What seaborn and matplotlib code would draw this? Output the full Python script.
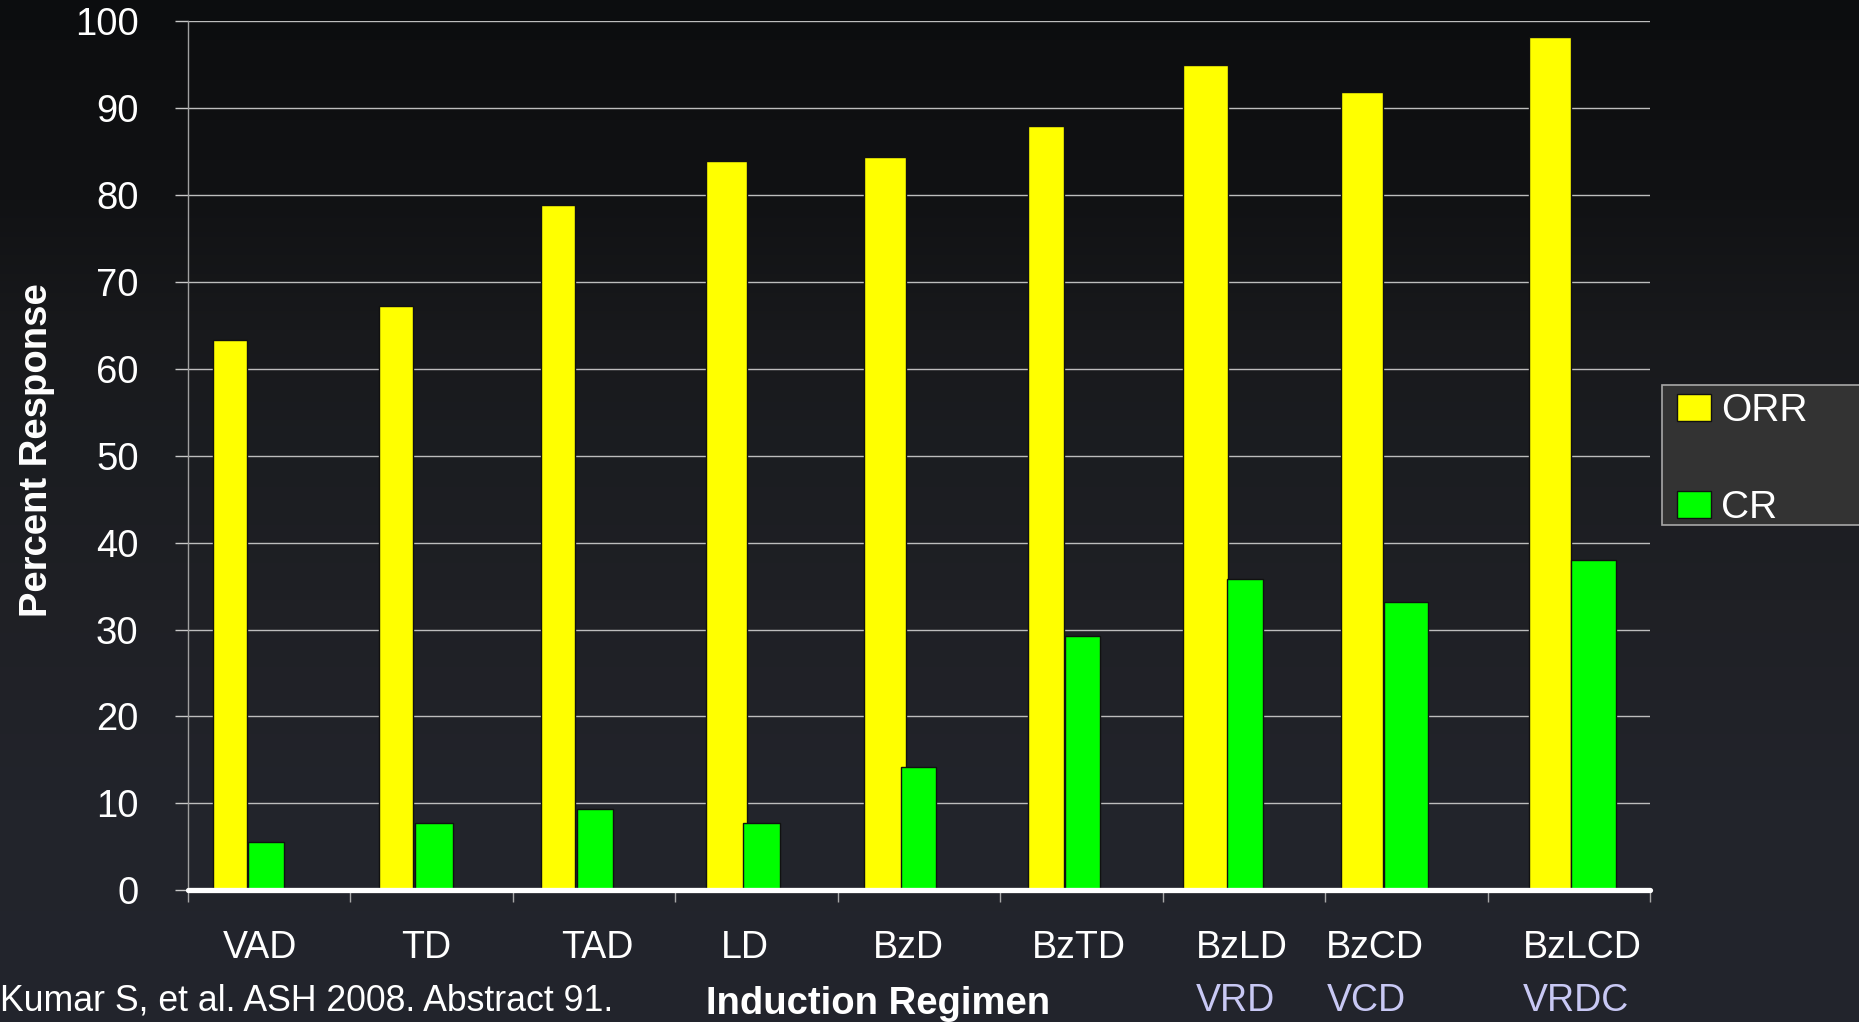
import numpy as np
import pandas as pd
import matplotlib
matplotlib.use("Agg")
import matplotlib.pyplot as plt
import matplotlib.transforms as mtransforms
from matplotlib.patches import Rectangle
import seaborn as sns

# ---- data -------------------------------------------------------------
regimens = ["VAD", "TD", "TAD", "LD", "BzD", "BzTD", "BzLD", "BzCD", "BzLCD"]
alias_regimens = ["BzLD", "BzCD", "BzLCD"]
alias_names = ["VRD", "VCD", "VRDC"]
measures = ["ORR", "CR"]
orr = [63.3, 67.2, 78.8, 83.9, 84.4, 87.9, 95.0, 91.8, 98.2]
cr = [5.5, 7.7, 9.4, 7.7, 14.2, 29.2, 35.8, 33.2, 38.0]
y_ticks = list(range(0, 101, 10))

# ---- layout -----------------------------------------------------------
W, H = 1859, 1022
SLOT = 162.5  # pixel width of one category slot

# bar placement inside each slot (pixels from the slot's left edge)
orr_left = np.array([25.2, 28.5, 28.9, 31.3, 26.1, 28.3, 20.0, 16.4, 41.5]) / SLOT
orr_width = np.array([34.3, 34.2, 33.8, 40.2, 42.0, 35.6, 45.5, 41.8, 42.4]) / SLOT
cr_left = np.array([60.3, 65.0, 64.0, 67.8, 63.5, 65.0, 64.5, 59.0, 83.9]) / SLOT
cr_width = np.array([35.8, 37.6, 36.8, 37.2, 35.5, 35.4, 35.5, 44.0, 45.0]) / SLOT

# category label centres and alias label left edges (category units)
label_x = [-0.054, 0.968, 2.024, 2.928, 3.934, 4.986, 5.986, 6.808, 8.082]
alias_x = [5.706, 6.509, 7.716]


def fx(px):
    return px / W


def fy(py):
    return 1 - py / H


sns.set_theme(style="dark")
plt.rcParams["font.family"] = ["Liberation Sans", "DejaVu Sans"]
plt.rcParams["text.color"] = "white"

fig = plt.figure(figsize=(W / 100, H / 100), dpi=100)

# dark vertical gradient backdrop
bg = fig.add_axes([0, 0, 1, 1], zorder=-10)
rows = np.arange(H)
stops_y = [0, 200, 330, 450, 600, 800, H]
stops_rgb = np.array([[12, 13, 15], [17, 18, 20], [24, 25, 28], [27, 29, 33],
                      [31, 32, 37], [34, 36, 43], [35, 37, 45]]) / 255
grad = np.stack([np.interp(rows, stops_y, stops_rgb[:, k]) for k in range(3)], axis=-1)
bg.imshow(grad[:, None, :], aspect="auto", extent=[0, 1, 0, 1], interpolation="bilinear")
bg.axis("off")

ax = fig.add_axes([fx(187.5), fy(890.2), fx(1650) - fx(187.5), (890.2 - 21.2) / H])
ax.set_facecolor("none")

df = pd.DataFrame({
    "Regimen": regimens * 2,
    "Measure": ["ORR"] * len(regimens) + ["CR"] * len(regimens),
    "Percent": orr + cr,
})
sns.barplot(data=df, x="Regimen", y="Percent", hue="Measure", order=regimens,
            hue_order=measures, palette={"ORR": "#ffff00", "CR": "#00ff00"},
            saturation=1, errorbar=None, edgecolor="#111111", linewidth=1.0,
            legend=False, ax=ax, zorder=2)

# place each bar inside its slot
for i, bar in enumerate(ax.containers[0]):
    bar.set_x(i - 0.5 + orr_left[i])
    bar.set_width(orr_width[i])
for i, bar in enumerate(ax.containers[1]):
    bar.set_x(i - 0.5 + cr_left[i])
    bar.set_width(cr_width[i])

ax.set_xlim(-0.5, len(regimens) - 0.5)
ax.set_ylim(0, 100)
ax.set_yticks(y_ticks)
ax.set_yticklabels([str(t) for t in y_ticks])
ax.tick_params(axis="y", colors="#c8c8c8", labelcolor="white", labelsize=27.5,
               length=9.7, width=1.0, pad=25.5, direction="out", left=True)

ax.set_xticks(label_x)
ax.set_xticklabels(regimens)
ax.set_xticks(np.arange(-0.5, len(regimens), 1), minor=True)
ax.tick_params(axis="x", which="major", length=0, labelsize=27, labelcolor="white", pad=28.5)
ax.tick_params(axis="x", which="minor", length=8.5, width=1.0, color="#a8a8a8",
               direction="out", bottom=True)

ax.grid(False)
ax.yaxis.grid(True, color="#bdbdbd", linewidth=1.0)
ax.set_axisbelow(True)
for side in ["top", "right", "bottom"]:
    ax.spines[side].set_visible(False)
ax.spines["left"].set_color("#a0a0a0")
ax.spines["left"].set_linewidth(1.0)
ax.axhline(0, color="white", linewidth=3.8, zorder=4, clip_on=False)

ax.set_xlabel("")
ax.set_ylabel("Percent Response", fontsize=27.5, fontweight="bold", color="white")
ax.yaxis.set_label_coords(-0.0905, 0.5064)

# alternative regimen names under the bortezomib combinations
blend = mtransforms.blended_transform_factory(ax.transData, fig.transFigure)
for x, name in zip(alias_x, alias_names):
    ax.text(x, fy(1011), name, transform=blend, ha="left", va="baseline",
            fontsize=27, color="#c8c8f4", clip_on=False)

fig.text(fx(878), fy(1014), "Induction Regimen", ha="center", va="baseline",
         fontsize=27.5, fontweight="bold", color="white")
fig.text(fx(0), fy(1010.7), "Kumar S, et al. ASH 2008. Abstract 91.", ha="left",
         va="baseline", fontsize=25.7, color="white")

# legend panel
fig.patches.append(Rectangle((fx(1662.3), fy(525)), fx(1900) - fx(1662.3), (525 - 385) / H,
                             transform=fig.transFigure, facecolor="#333333",
                             edgecolor="#a8a8a8", linewidth=1.2, zorder=1))
handles = [ax.containers[0].patches[0], ax.containers[1].patches[0]]
fig.legend(handles, measures, loc="upper left", bbox_to_anchor=(fx(1677), fy(393)),
           bbox_transform=fig.transFigure, frameon=False, fontsize=28,
           handlelength=0.884, handleheight=0.70, handletextpad=0.24,
           labelspacing=1.58, borderpad=0, borderaxespad=0, labelcolor="white")

fig.savefig("out.png", dpi=100)
